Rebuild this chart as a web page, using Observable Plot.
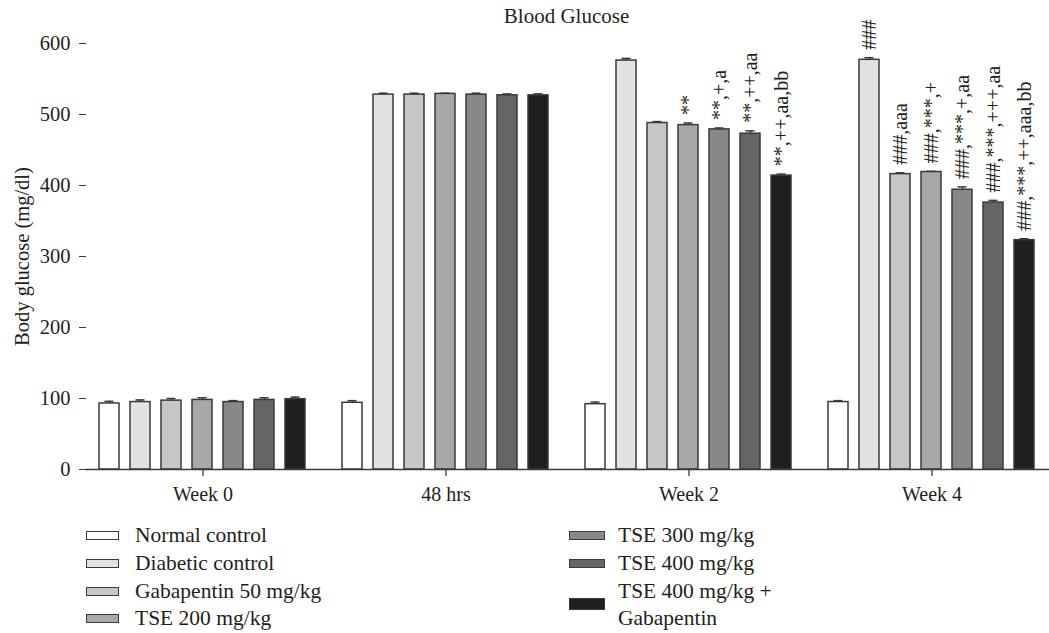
<!DOCTYPE html>
<html>
<head>
<meta charset="utf-8">
<script src="https://cdn.jsdelivr.net/npm/d3@7"></script>
<script src="https://cdn.jsdelivr.net/npm/@observablehq/plot@0.6"></script>
<style>
  html, body { margin: 0; padding: 0; background: #fff; }
  body { width: 1049px; height: 633px; position: relative; overflow: hidden; font-family: "Liberation Serif", serif; color: #231f20; }
  #title { position: absolute; left: 85px; width: 963px; top: 0; height: 30px; line-height: 32px; text-align: center; font-size: 21px; z-index: 2; }
  #chart { position: absolute; left: 0; top: 0; z-index: 1; }
  .lg { position: absolute; font-size: 21.5px; line-height: 27px; white-space: nowrap; }
  .sw { position: absolute; box-sizing: border-box; border: 1.3px solid #3a3a3a; }
</style>
</head>
<body>
<div id="chart"></div>
<div id="title">Blood Glucose</div>
<div id="legend"></div>
<script>
// ---- data ----
const weeks = ["Week 0", "48 hrs", "Week 2", "Week 4"];
const groups = ["Normal control", "Diabetic control", "Gabapentin 50 mg/kg", "TSE 200 mg/kg", "TSE 300 mg/kg", "TSE 400 mg/kg", "TSE 400 mg/kg + Gabapentin"];
const fills = ["#ffffff", "#e2e2e2", "#c7c7c7", "#a8a8a8", "#888888", "#646664", "#1e1f21"];

const week0Values = [93, 95, 97, 98, 95, 98, 99];
const hrs48Values = [94, 528, 528, 529, 528, 527, 527];
const week2Values = [92, 576, 488, 485, 479, 473, 414];
const week4Values = [95, 577, 416, 419, 394, 376, 323];

const week0Errors = [3, 3, 3, 3, 2, 3, 3];
const hrs48Errors = [3, 2, 2, 1, 2, 2, 2];
const week2Errors = [3, 3, 2, 3, 2, 4, 2];
const week4Errors = [2, 3, 2, 1, 4, 3, 2];

const week0Notes = ["", "", "", "", "", "", ""];
const hrs48Notes = ["", "", "", "", "", "", ""];
const week2Notes = ["", "", "", "**", "**,+,a", "**,++,aa", "**,++,aa,bb"];
const week4Notes = ["", "###", "###,aaa", "###,***,+", "###,***,+,aa", "###,***,+++,aa", "###,***,++,aaa,bb"];

const yTicks = [0, 100, 200, 300, 400, 500, 600];

// ---- table ----
const valueSets = [week0Values, hrs48Values, week2Values, week4Values];
const errorSets = [week0Errors, hrs48Errors, week2Errors, week4Errors];
const noteSets = [week0Notes, hrs48Notes, week2Notes, week4Notes];
const rows = [];
weeks.forEach((w, i) => groups.forEach((g, j) => rows.push({
  week: w, group: g, value: valueSets[i][j], err: errorSets[i][j], note: noteSets[i][j]
})));
const noted = rows.filter(d => d.note !== "");

const ink = "#231f20";
const chart = Plot.plot({
  width: 1049,
  height: 514,
  marginLeft: 85,
  marginRight: 1,
  marginTop: 43,
  marginBottom: 45,
  style: { fontFamily: "Liberation Serif, serif", fontSize: "20px", color: ink, background: "transparent" },
  fx: { domain: weeks, paddingInner: 0.0423, paddingOuter: 0, label: null },
  x: { domain: groups, padding: 0.34, axis: null },
  y: { domain: [0, 600], label: null },
  color: { domain: groups, range: fills },
  marks: [
    Plot.barY(rows, { fx: "week", x: "group", y: "value", fill: "group", stroke: "#3a3a3a", strokeWidth: 1.5 }),
    Plot.ruleX(rows, { fx: "week", x: "group", y1: "value", y2: d => d.value + d.err, stroke: "#3a3a3a", strokeWidth: 1.5 }),
    Plot.tickY(rows, { fx: "week", x: "group", y: d => d.value + d.err, stroke: "#3a3a3a", strokeWidth: 1.5, insetLeft: 5.5, insetRight: 5.5 }),
    Plot.text(noted, { fx: "week", x: "group", y: d => d.value + d.err, text: "note", rotate: -90, textAnchor: "start", lineAnchor: "middle", dy: -8, fill: ink, fontSize: 20 }),
    Plot.frame({ anchor: "bottom", facet: "super", stroke: "#3a3a3a", strokeWidth: 1.5 }),
    Plot.axisY({ ticks: yTicks, tickSize: 7, tickPadding: 9, line: true, stroke: "#3a3a3a", fontSize: 20.5, label: "Body glucose (mg/dl)", labelAnchor: "center", labelOffset: 72, labelArrow: "none" }),
    Plot.axisFx({ anchor: "bottom", tickSize: 7, tickPadding: 10, stroke: "#3a3a3a", strokeWidth: 1.3, label: null })
  ]
});
document.getElementById("chart").appendChild(chart);

// ---- legend ----
const legend = document.getElementById("legend");
const leftItems = groups.slice(0, 4);
const rowCenters = [535, 563, 591, 618];
leftItems.forEach((g, i) => {
  const sw = document.createElement("div");
  sw.className = "sw";
  sw.style.cssText = `left:86px;top:${rowCenters[i] - 4.5}px;width:33px;height:9px;background:${fills[i]}`;
  legend.appendChild(sw);
  const t = document.createElement("div");
  t.className = "lg";
  t.style.cssText = `left:135px;top:${rowCenters[i] - 13.5}px`;
  t.textContent = g;
  legend.appendChild(t);
});
[4, 5].forEach((k, i) => {
  const sw = document.createElement("div");
  sw.className = "sw";
  sw.style.cssText = `left:569px;top:${rowCenters[i] - 4.5}px;width:36px;height:9px;background:${fills[k]}`;
  legend.appendChild(sw);
  const t = document.createElement("div");
  t.className = "lg";
  t.style.cssText = `left:618px;top:${rowCenters[i] - 13.5}px`;
  t.textContent = groups[k];
  legend.appendChild(t);
});
{
  const sw = document.createElement("div");
  sw.className = "sw";
  sw.style.cssText = `left:569px;top:598px;width:36px;height:12px;background:${fills[6]}`;
  legend.appendChild(sw);
  const t = document.createElement("div");
  t.className = "lg";
  t.style.cssText = `left:618px;top:${rowCenters[2] - 13.5}px`;
  t.innerHTML = "TSE 400 mg/kg +<br>Gabapentin";
  legend.appendChild(t);
}
</script>
</body>
</html>
